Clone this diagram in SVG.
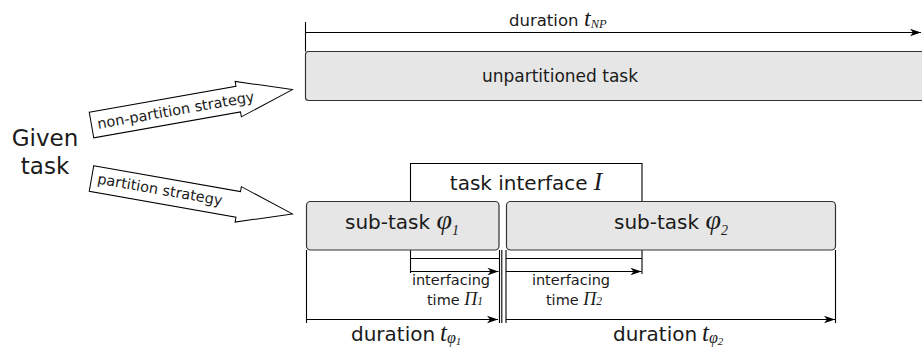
<svg xmlns="http://www.w3.org/2000/svg" width="922" height="350" viewBox="0 0 922 350">
<defs>
<style>
.t{font-family:"DejaVu Sans","Liberation Sans",sans-serif;fill:#1a1a1a}
.m{font-family:"Liberation Serif","DejaVu Serif",serif;font-style:italic}
.box{fill:#e6e6e6;stroke:#333;stroke-width:1.2}
.ln{fill:none;stroke:#000;stroke-width:1.1}
.arr{fill:#fff;stroke:#000;stroke-width:1}
</style>
<marker id="ah" viewBox="-12 -5 13 10" markerWidth="13" markerHeight="10" refX="0" refY="0" orient="auto" markerUnits="userSpaceOnUse">
<path d="M0,0 L-11,-3.8 L-8,0 L-11,3.8 Z" fill="#000"/>
</marker>
</defs>

<g id="given-task">
<text class="t" x="45" y="146" font-size="23" text-anchor="middle">Given</text>
<text class="t" x="45" y="174" font-size="23" text-anchor="middle">task</text>
</g>

<g id="non-partition-strategy" transform="translate(91.5,125) rotate(-10)">
<path class="arr" d="M0,-13 H149 V-18 L204,0 L149,18 V13 H0 Z"/>
<text class="t" x="6" y="5" font-size="14.5">non-partition strategy</text>
</g>

<g id="partition-strategy" transform="translate(91.5,178.5) rotate(10)">
<path class="arr" d="M0,-13 H149 V-18 L204,0 L149,18 V13 H0 Z"/>
<text class="t" x="6" y="4" font-size="14.5">partition strategy</text>
</g>

<g id="unpartitioned-task">
<rect class="box" x="305.5" y="51.5" width="640" height="49" rx="3"/>
<text class="t" x="560" y="82" font-size="17" text-anchor="middle">unpartitioned task</text>
</g>

<g id="task-interface">
<path class="ln" d="M410.5,273 V163.5 H642 V274"/>
<path class="ln" d="M410.5,258.5 H499 M506,258.5 H642"/>
<text class="t" x="526" y="190" font-size="20" text-anchor="middle">task interface <tspan class="m" font-size="25">I</tspan></text>
</g>

<g id="sub-task-1">
<rect class="box" x="306.5" y="201.5" width="192.5" height="48.5" rx="4"/>
<text class="t" x="402" y="229" font-size="20" text-anchor="middle">sub-task <tspan class="m" font-size="28">φ</tspan><tspan class="m" font-size="14" dy="6">1</tspan></text>
</g>

<g id="sub-task-2">
<rect class="box" x="506.5" y="201.5" width="329" height="48.5" rx="4"/>
<text class="t" x="671" y="229" font-size="20" text-anchor="middle">sub-task <tspan class="m" font-size="28">φ</tspan><tspan class="m" font-size="14" dy="6">2</tspan></text>
</g>

<g id="connectors">
<path class="ln" d="M305.5,22 V51.5"/>
<path class="ln" d="M305.5,32.5 H921" marker-end="url(#ah)"/>
<path class="ln" d="M306.5,250 V323 M499.5,250 V323 M501.8,250 V323 M506,250 V323 M835.5,250 V323"/>
<path class="ln" d="M410.5,271.5 H498.5" marker-end="url(#ah)"/>
<path class="ln" d="M506,271.5 H641.5" marker-end="url(#ah)"/>
<path class="ln" d="M306.5,319.5 H498" marker-end="url(#ah)"/>
<path class="ln" d="M506,319.5 H835" marker-end="url(#ah)"/>
</g>

<g id="labels">
<text class="t" x="509" y="26" font-size="16.5">duration <tspan class="m" x="584" font-size="24">t</tspan><tspan class="m" font-size="12.5" dy="2">NP</tspan></text>
<text class="t" x="451" y="285" font-size="14.5" text-anchor="middle">interfacing</text>
<text class="t" x="455" y="305" font-size="14.5" text-anchor="middle">time <tspan class="m" font-size="18">Π</tspan><tspan class="m" font-size="11.5">1</tspan></text>
<text class="t" x="571" y="285" font-size="14.5" text-anchor="middle">interfacing</text>
<text class="t" x="574" y="305" font-size="14.5" text-anchor="middle">time <tspan class="m" font-size="18">Π</tspan><tspan class="m" font-size="11.5">2</tspan></text>
<text class="t" x="351" y="341" font-size="20">duration <tspan class="m" x="440" font-size="25">t</tspan><tspan class="m" font-size="16" dy="2">φ</tspan><tspan class="m" font-size="11" dy="2">1</tspan></text>
<text class="t" x="613" y="341" font-size="20">duration <tspan class="m" x="702" font-size="25">t</tspan><tspan class="m" font-size="16" dy="2">φ</tspan><tspan class="m" font-size="11" dy="2">2</tspan></text>
</g>
</svg>
